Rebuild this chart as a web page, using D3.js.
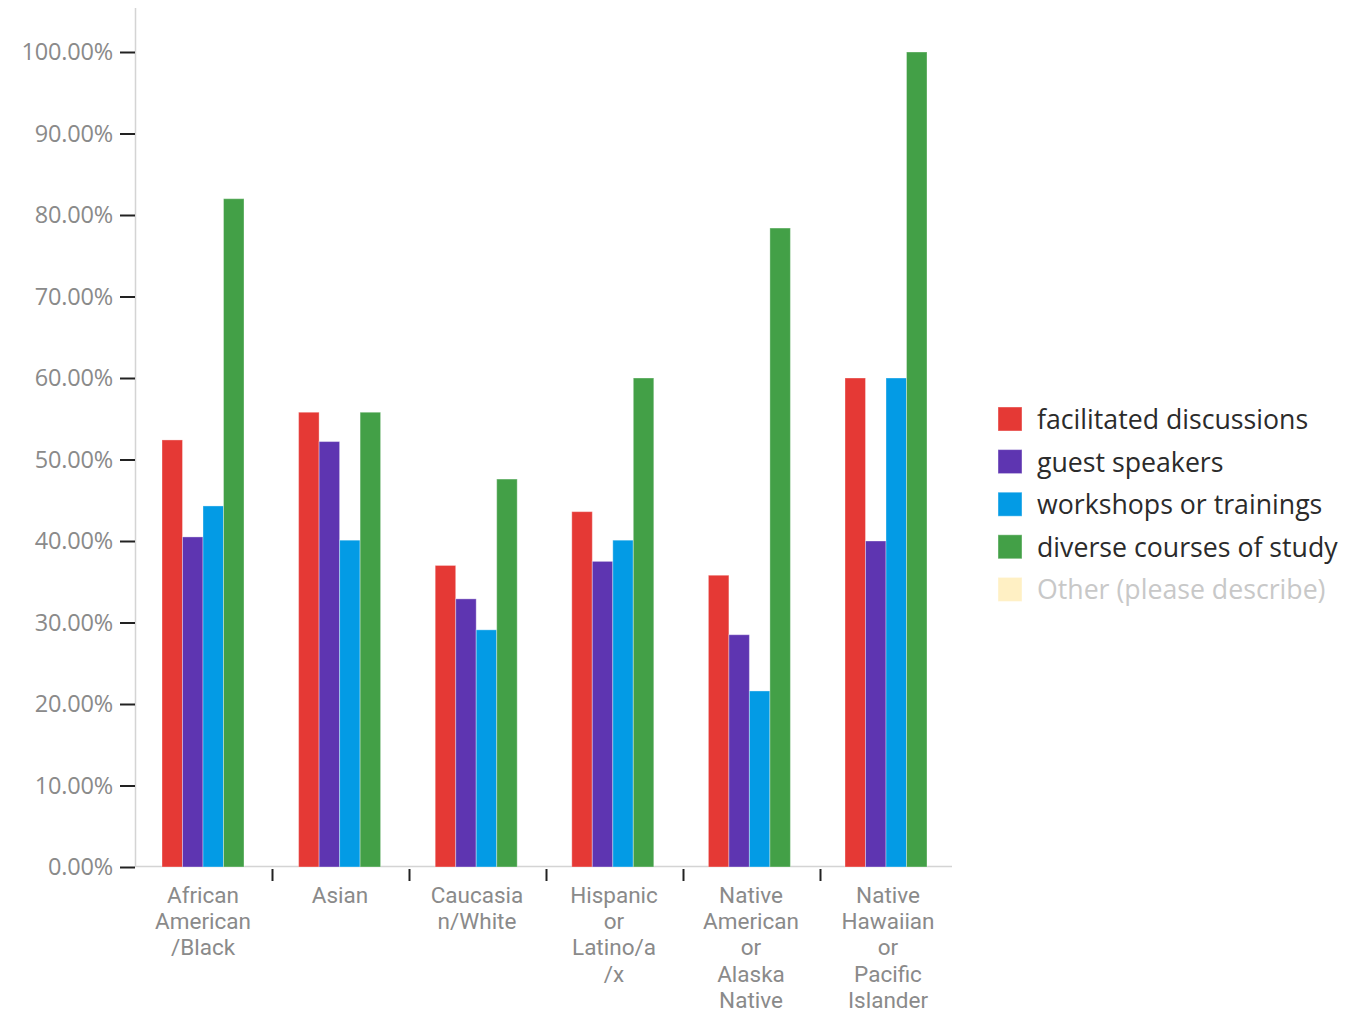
<!DOCTYPE html>
<html><head><meta charset="utf-8">
<script src="https://cdn.jsdelivr.net/npm/d3@7"></script>
<style>
html,body{margin:0;padding:0;background:#fff;}
svg{display:block;font-family:"Open Sans",sans-serif;}
</style></head>
<body><svg id="c" width="1352" height="1014"></svg>
<script>
const categories = ["African American/Black","Asian","Caucasian/White","Hispanic or Latino/a/x","Native American or Alaska Native","Native Hawaiian or Pacific Islander"];
const categoryLines = [["African","American","/Black"],["Asian"],["Caucasia","n/White"],["Hispanic","or","Latino/a","/x"],["Native","American","or","Alaska","Native"],["Native","Hawaiian","or","Pacific","Islander"]];
const seriesNames = ["facilitated discussions","guest speakers","workshops or trainings","diverse courses of study","Other (please describe)"];
const seriesColors = ["#E53935","#5E35B1","#039BE5","#43A047","#FFF0C4"];
const facilitated = [52.4, 55.8, 37.0, 43.6, 35.8, 60.0];
const guest = [40.5, 52.2, 32.9, 37.5, 28.5, 40.0];
const workshops = [44.3, 40.1, 29.1, 40.1, 21.6, 60.0];
const diverse = [82.0, 55.8, 47.6, 60.0, 78.4, 100.0];
const yTicks = [0,10,20,30,40,50,60,70,80,90,100];
const visibleSeries = [facilitated, guest, workshops, diverse];

const svg = d3.select("#c");
const x = d3.scaleBand().domain(categories).range([135, 957]);
const x1 = d3.scaleBand().domain(d3.range(visibleSeries.length)).range([27, 109]);
const y = d3.scaleLinear().domain([0, 100]).range([867, 52]);

// y axis line (extends above top tick)
svg.append("line").attr("x1",135.5).attr("x2",135.5).attr("y1",y(0)).attr("y2",y(105.4))
  .attr("stroke","#d4d4d4").attr("stroke-width",1.5);
// x baseline
svg.append("line").attr("x1",135).attr("x2",952).attr("y1",y(0)-0.5).attr("y2",y(0)-0.5)
  .attr("stroke","#d4d4d4").attr("stroke-width",1.5);

// y axis ticks
const yAxis = d3.axisLeft(y).tickValues(yTicks).tickFormat(d => d.toFixed(2) + "%").tickSize(15).tickPadding(7);
const gy = svg.append("g").attr("transform","translate(135,0)").call(yAxis);
gy.select(".domain").remove();
gy.selectAll(".tick line").attr("stroke","#222").attr("stroke-width",2);
gy.selectAll(".tick text").attr("fill","#8a8a8a").style("font-size","23.5px").style("font-family","'Open Sans',sans-serif").attr("letter-spacing","-0.2");

// x category ticks between bands
const boundaries = categories.slice(1).map(c => x(c));
svg.selectAll(".xt").data(boundaries).enter().append("line")
  .attr("x1", d => d+0.5).attr("x2", d => d+0.5).attr("y1", y(0)+2).attr("y2", y(0)+14)
  .attr("stroke","#222").attr("stroke-width",2);

// bars
const groups = svg.selectAll(".grp").data(categories).enter().append("g")
  .attr("transform", (d,i) => `translate(${x(d) - i*0.4},0)`);
groups.selectAll("rect").data((d,i) => visibleSeries.map((s,k) => ({k, v: s[i]}))).enter().append("rect")
  .attr("x", d => x1(d.k)).attr("width", x1.bandwidth())
  .attr("y", d => y(d.v)).attr("height", d => y(0) - y(d.v))
  .attr("fill", d => seriesColors[d.k])
  .attr("stroke","rgba(255,255,255,0.35)").attr("stroke-width",1);

// category labels
const lab = svg.selectAll(".cl").data(categories).enter().append("text")
  .attr("text-anchor","middle").attr("fill","#8a8a8a")
  .style("font-family","Roboto,sans-serif")
  .style("font-size","22.5px");
lab.each(function(d,i){
  const t = d3.select(this);
  categoryLines[i].forEach((ln, j) => {
    t.append("tspan").attr("x", x(d) + x.bandwidth()/2 - 0.5).attr("y", 902.5 + j*26.4).text(ln);
  });
});

// legend
const leg = svg.append("g").attr("transform","translate(998,407)");
const li = leg.selectAll("g").data(seriesNames).enter().append("g")
  .attr("transform",(d,i) => `translate(0,${i*42.6})`);
li.append("rect").attr("width",24).attr("height",24).attr("fill",(d,i)=>seriesColors[i])
  .attr("stroke","rgba(255,255,255,0.4)");
li.append("text").attr("x",39).attr("y",22).text(d=>d)
  .attr("fill",(d,i)=> i===4 ? "#c8c8c8" : "#2b2b2b")
  .style("font-size","26.7px");
</script></body></html>
